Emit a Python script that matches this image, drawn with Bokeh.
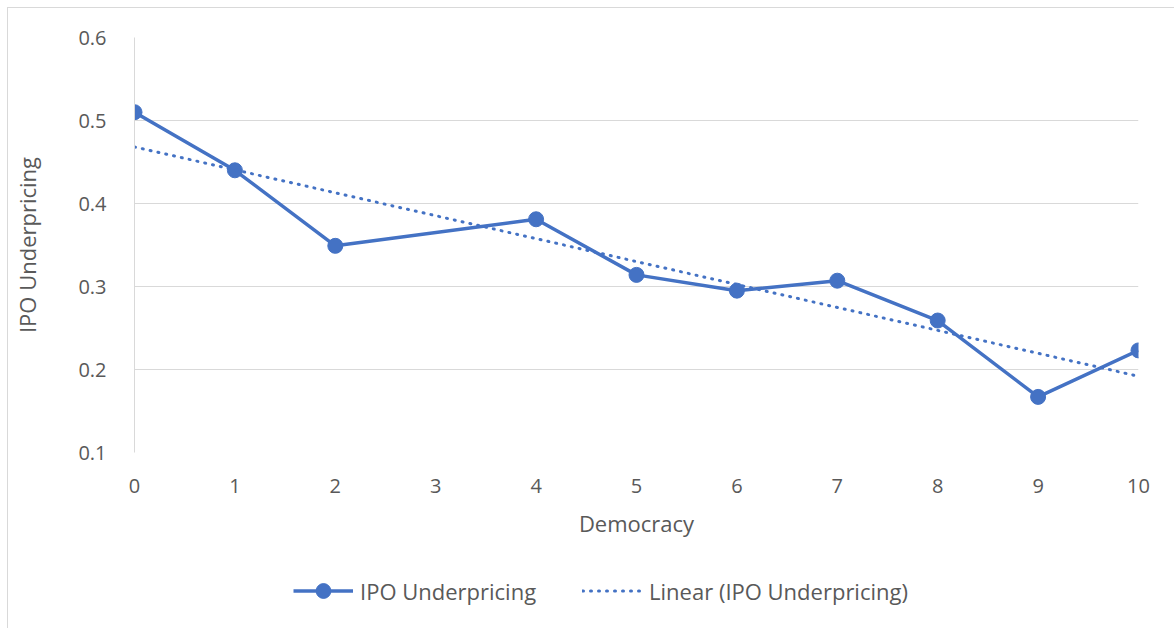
import numpy as np
from bokeh.plotting import figure
from bokeh.layouts import column
from bokeh.models import (ColumnDataSource, FixedTicker, Legend, LegendItem, Range1d)
from bokeh.embed import file_html
from bokeh.resources import INLINE

# ---- data ----
democracy = [0, 1, 2, 4, 5, 6, 7, 8, 9, 10]
ipo_underpricing = [0.510, 0.440, 0.349, 0.381, 0.314, 0.295, 0.307, 0.259, 0.167, 0.223]
x_ticks = [0, 1, 2, 3, 4, 5, 6, 7, 8, 9, 10]
y_ticks = [0.1, 0.2, 0.3, 0.4, 0.5, 0.6]

series_name = "IPO Underpricing"
trend_name = "Linear (IPO Underpricing)"
x_title = "Democracy"
y_title = "IPO Underpricing"

# linear trendline fitted to the series (as Excel's "Linear" trendline)
slope, intercept = np.polyfit(democracy, ipo_underpricing, 1)
trend_x = [min(democracy), max(democracy)]
trend_y = [intercept + slope * v for v in trend_x]

BLUE = "#4472C4"
GREY_TXT = "#595959"
GRID = "#d9d9d9"
FONT = "Open Sans"

LINE_KW = dict(line_color=BLUE, line_width=3.5, line_join="round")
PT_KW = dict(size=15, fill_color=BLUE, line_color=BLUE)
TREND_KW = dict(line_color=BLUE, line_width=3, line_dash="1 7", line_cap="round")

# ---- main chart ----
p = figure(width=1167, height=552, output_backend="svg", toolbar_location=None,
           x_range=Range1d(0, 10), y_range=Range1d(0.1, 0.6),
           min_border_left=126, min_border_right=37, min_border_top=29,
           min_border_bottom=108)
p.outline_line_color = None
p.background_fill_color = "white"
p.border_fill_color = "white"

src = ColumnDataSource(dict(x=democracy, y=ipo_underpricing))
tsrc = ColumnDataSource(dict(x=trend_x, y=trend_y))

p.line("x", "y", source=src, **LINE_KW)
p.scatter("x", "y", source=src, **PT_KW)
p.line("x", "y", source=tsrc, **TREND_KW)

p.xaxis.ticker = FixedTicker(ticks=x_ticks)
p.yaxis.ticker = FixedTicker(ticks=y_ticks)
for ax in (p.xaxis[0], p.yaxis[0]):
    ax.major_tick_line_color = None
    ax.minor_tick_line_color = None
    ax.major_label_text_font = FONT
    ax.major_label_text_font_size = "20px"
    ax.major_label_text_color = GREY_TXT
    ax.axis_label_text_font = FONT
    ax.axis_label_text_font_size = "22px"
    ax.axis_label_text_font_style = "normal"
    ax.axis_label_text_color = GREY_TXT
p.xaxis.axis_line_color = None
p.yaxis.axis_line_color = GRID
p.xaxis.axis_label = x_title
p.yaxis.axis_label = y_title
p.xaxis.major_label_standoff = 20
p.xaxis.axis_label_standoff = 12
p.yaxis.major_label_standoff = 22
p.yaxis.axis_label_standoff = 33

p.xgrid.grid_line_color = None
p.ygrid.grid_line_color = GRID
p.ygrid.grid_line_width = 1

# ---- legend strip (same series, drawn out of view; only the legend shows) ----
lg = figure(width=1167, height=69, output_backend="svg", toolbar_location=None,
            x_range=Range1d(100, 101), y_range=Range1d(100, 101),
            x_axis_type=None, y_axis_type=None, min_border=0)
lg.outline_line_color = None
lg.grid.visible = False
l_line = lg.line("x", "y", source=src, **LINE_KW)
l_pts = lg.scatter("x", "y", source=src, **PT_KW)
l_trend = lg.line("x", "y", source=tsrc, **TREND_KW)

legend = Legend(items=[LegendItem(label=series_name, renderers=[l_line, l_pts]),
                       LegendItem(label=trend_name, renderers=[l_trend])],
                orientation="horizontal", location=(159, 20),
                glyph_width=60, glyph_height=37, label_standoff=7, spacing=46,
                label_text_font=FONT, label_text_font_size="22px",
                label_text_color=GREY_TXT, border_line_color=None,
                background_fill_alpha=0, margin=0, padding=0)
lg.add_layout(legend, "center")

layout = column(p, lg, spacing=0)
layout.styles = {"margin-left": "7px", "margin-top": "7px",
                 "border-left": "1px solid #d9d9d9", "border-top": "1px solid #d9d9d9"}

open("out.html", "w").write(file_html(layout, INLINE))
